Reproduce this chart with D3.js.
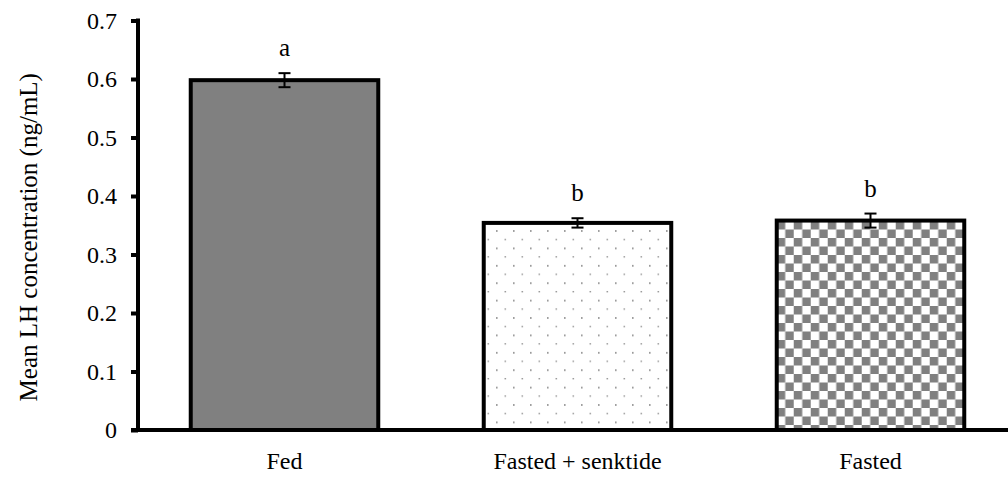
<!DOCTYPE html>
<html>
<head>
<meta charset="utf-8">
<script src="https://cdn.jsdelivr.net/npm/d3@7"></script>
<style>
  body { margin: 0; background: #fff; }
  svg text { font-family: "Liberation Serif", "Times New Roman", serif; fill: #000; }
</style>
</head>
<body>
<svg id="chart" width="1008" height="477"></svg>
<script>
const categories = ['Fed', 'Fasted + senktide', 'Fasted']
const means = [0.598, 0.354, 0.358]
const errors = [0.012, 0.008, 0.012]
const letters = ['a', 'b', 'b']
const fills = ['solid', 'dots', 'checker']
const yTicks = [0, 0.1, 0.2, 0.3, 0.4, 0.5, 0.6, 0.7]

const svg = d3.select('#chart')

// plot area; x range runs a little past the window like the original
const plotLeft = 138, plotRight = 1017, plotTop = 20.5, plotBottom = 430

const x = d3.scaleBand()
  .domain(categories)
  .range([plotLeft, plotRight])
  .paddingInner(0.36)
  .paddingOuter(0.18)

const y = d3.scaleLinear()
  .domain([0, 0.7])
  .range([plotBottom, plotTop])

// fill patterns
const defs = svg.append('defs')
const dots = defs.append('pattern')
  .attr('id', 'dots')
  .attr('patternUnits', 'userSpaceOnUse')
  .attr('width', 17).attr('height', 17.4)
dots.append('rect').attr('width', 17).attr('height', 17.4).attr('fill', '#fff')
dots.append('rect').attr('x', 3).attr('y', 4).attr('width', 1.6).attr('height', 1.6).attr('fill', '#8a8a8a')
dots.append('rect').attr('x', 11.5).attr('y', 12.7).attr('width', 1.6).attr('height', 1.2).attr('fill', '#8a8a8a')

const checker = defs.append('pattern')
  .attr('id', 'checker')
  .attr('patternUnits', 'userSpaceOnUse')
  .attr('width', 17).attr('height', 17)
  .attr('x', x('Fasted'))
  .attr('y', 0)
checker.append('rect').attr('width', 17).attr('height', 17).attr('fill', '#fff')
checker.append('rect').attr('width', 8.5).attr('height', 8.5).attr('fill', '#808080')
checker.append('rect').attr('x', 8.5).attr('y', 8.5).attr('width', 8.5).attr('height', 8.5).attr('fill', '#808080')

const fillFor = f => f === 'solid' ? '#808080' : `url(#${f})`

const data = categories.map((c, i) => ({ c, m: means[i], e: errors[i], l: letters[i], f: fills[i] }))

// bars
svg.selectAll('rect.bar')
  .data(data)
  .enter()
  .append('rect')
  .attr('class', 'bar')
  .attr('x', d => x(d.c))
  .attr('y', d => y(d.m))
  .attr('width', x.bandwidth())
  .attr('height', d => y(0) - y(d.m))
  .attr('fill', d => fillFor(d.f))
  .attr('stroke', '#000')
  .attr('stroke-width', 4)

// error bars
const eb = svg.selectAll('g.err')
  .data(data)
  .enter()
  .append('g')
  .attr('class', 'err')
  .attr('stroke', '#000')
  .attr('stroke-width', 2)
eb.append('line')
  .attr('x1', d => x(d.c) + x.bandwidth() / 2)
  .attr('x2', d => x(d.c) + x.bandwidth() / 2)
  .attr('y1', d => y(d.m + d.e))
  .attr('y2', d => y(d.m - d.e))
eb.append('line')
  .attr('x1', d => x(d.c) + x.bandwidth() / 2 - 6)
  .attr('x2', d => x(d.c) + x.bandwidth() / 2 + 6)
  .attr('y1', d => y(d.m + d.e))
  .attr('y2', d => y(d.m + d.e))
eb.append('line')
  .attr('x1', d => x(d.c) + x.bandwidth() / 2 - 6)
  .attr('x2', d => x(d.c) + x.bandwidth() / 2 + 6)
  .attr('y1', d => y(d.m - d.e))
  .attr('y2', d => y(d.m - d.e))

// significance letters
svg.selectAll('text.letter')
  .data(data)
  .enter()
  .append('text')
  .attr('class', 'letter')
  .attr('x', d => x(d.c) + x.bandwidth() / 2)
  .attr('y', d => y(d.m + d.e) - 17)
  .attr('text-anchor', 'middle')
  .style('font-size', '25px')
  .text(d => d.l)

// y axis
const yAxis = svg.append('g')
  .attr('transform', `translate(${plotLeft},0)`)
  .call(d3.axisLeft(y).tickValues(yTicks).tickFormat(d => d === 0 ? '0' : d3.format('.1f')(d)).tickSize(7).tickPadding(14))
yAxis.select('.domain').attr('stroke', '#000').attr('stroke-width', 4).attr('d', `M0,${plotTop - 2}V${plotBottom + 2}`)
yAxis.selectAll('.tick line').attr('stroke-width', 4)
yAxis.selectAll('.tick text').style('font-size', '24px').style('font-family', '"Liberation Serif", serif')

// x axis
const xAxis = svg.append('g')
  .attr('transform', `translate(0,${plotBottom})`)
  .call(d3.axisBottom(x).tickSize(0).tickPadding(22))
xAxis.select('.domain').attr('stroke', '#000').attr('stroke-width', 4).attr('d', `M${plotLeft - 7},0H${plotRight}`)
xAxis.selectAll('.tick text').style('font-size', '24px').style('font-family', '"Liberation Serif", serif')

// y title
svg.append('text')
  .attr('transform', `translate(28,${(plotTop + plotBottom) / 2 + 12}) rotate(-90)`)
  .attr('text-anchor', 'middle')
  .attr('dy', '0.35em')
  .style('font-size', '25px')
  .text('Mean LH concentration (ng/mL)')
</script>
</body>
</html>
